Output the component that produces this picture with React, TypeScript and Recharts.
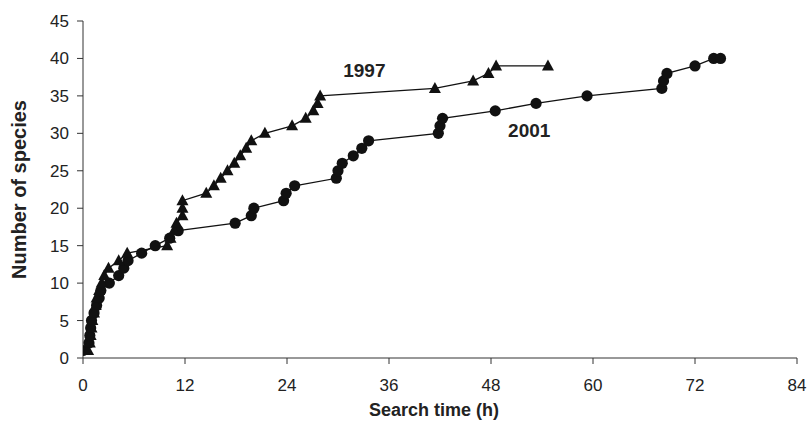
import { LineChart, Line, XAxis, YAxis, ReferenceDot } from "recharts";

const hours1997 = [0.6, 0.8, 0.9, 1.0, 1.1, 1.3, 1.5, 1.6, 1.9, 2.2, 2.5, 3.0, 4.2, 5.2, 9.9, 10.3, 10.7, 11.0, 11.7, 11.7, 11.7, 14.5, 15.4, 16.2, 17.0, 17.8, 18.5, 19.2, 19.8, 21.4, 24.6, 26.2, 27.1, 27.6, 27.9, 41.4, 45.9, 47.7, 48.6, 54.7];
const species1997 = [1, 2, 3, 4, 5, 6, 7, 8, 9, 10, 11, 12, 13, 14, 15, 16, 17, 18, 19, 20, 21, 22, 23, 24, 25, 26, 27, 28, 29, 30, 31, 32, 33, 34, 35, 36, 37, 38, 39, 39];

const hours2001 = [0, 0.7, 0.8, 0.9, 1.0, 1.3, 1.6, 1.9, 2.1, 3.1, 4.2, 4.8, 5.3, 6.9, 8.5, 10.2, 11.2, 17.9, 19.8, 20.1, 23.6, 23.9, 24.9, 29.8, 30.0, 30.5, 31.8, 32.8, 33.6, 41.8, 42.0, 42.3, 48.5, 53.3, 59.3, 68.1, 68.3, 68.7, 72.0, 74.2, 75.0];
const species2001 = [1, 2, 3, 4, 5, 6, 7, 8, 9, 10, 11, 12, 13, 14, 15, 16, 17, 18, 19, 20, 21, 22, 23, 24, 25, 26, 27, 28, 29, 30, 31, 32, 33, 34, 35, 36, 37, 38, 39, 40, 40];

const xTicks = [0, 12, 24, 36, 48, 60, 72, 84];
const yTicks = [0, 5, 10, 15, 20, 25, 30, 35, 40, 45];

const data1997 = hours1997.map((t, i) => ({ t, n: species1997[i] }));
const data2001 = hours2001.map((t, i) => ({ t, n: species2001[i] }));

const font = "'Liberation Sans', Arial, sans-serif";

const Triangle = (props: any) => {
  const { cx, cy } = props;
  if (cx == null || cy == null) return null;
  return (
    <path
      d={`M${cx},${cy - 6.5} L${cx + 6},${cy + 4.5} L${cx - 6},${cy + 4.5} Z`}
      fill="#111"
    />
  );
};

const Circle = (props: any) => {
  const { cx, cy } = props;
  if (cx == null || cy == null) return null;
  return <circle cx={cx} cy={cy} r={5.6} fill="#111" />;
};

export default function App() {
  return (
    <div style={{ position: "absolute", left: 0, top: 0, background: "#fff" }}>
      <LineChart
        width={807}
        height={423}
        margin={{ top: 21, right: 10, bottom: 0, left: 0 }}
      >
        <XAxis
          dataKey="t"
          type="number"
          domain={[0, 84]}
          ticks={xTicks}
          allowDataOverflow
          stroke="#333"
          tickSize={6}
          tickMargin={15}
          height={65}
          tick={{ fill: "#222", fontSize: 17, fontFamily: font }}
          label={{
            content: (p: any) => (
              <text
                x={p.viewBox.x + p.viewBox.width / 2 - 6}
                y={p.viewBox.y + 52}
                textAnchor="middle"
                dominantBaseline="central"
                fontFamily={font}
                fontWeight="bold"
                fontSize={18}
                fill="#222"
              >
                Search time (h)
              </text>
            ),
          }}
        />
        <YAxis
          dataKey="n"
          type="number"
          domain={[0, 45]}
          ticks={yTicks}
          stroke="#333"
          width={83}
          tickSize={6}
          tickMargin={8}
          tick={{ fill: "#222", fontSize: 17, fontFamily: font }}
          label={{
            content: (p: any) => (
              <text
                x={19}
                y={p.viewBox.y + p.viewBox.height / 2}
                transform={`rotate(-90, 19, ${p.viewBox.y + p.viewBox.height / 2})`}
                textAnchor="middle"
                dominantBaseline="central"
                fontFamily={font}
                fontWeight="bold"
                fontSize={20}
                fill="#222"
              >
                Number of species
              </text>
            ),
          }}
        />
        <Line
          data={data2001}
          dataKey="n"
          type="linear"
          stroke="#111"
          strokeWidth={1.3}
          dot={<Circle />}
          activeDot={false}
          isAnimationActive={false}
        />
        <Line
          data={data1997}
          dataKey="n"
          type="linear"
          stroke="#111"
          strokeWidth={1.3}
          dot={<Triangle />}
          activeDot={false}
          isAnimationActive={false}
        />
        <ReferenceDot
          x={33.1}
          y={38.4}
          r={0}
          stroke="none"
          label={{ value: "1997", position: "center", fontSize: 19, fontWeight: "bold", fontFamily: font, fill: "#222" }}
        />
        <ReferenceDot
          x={52.5}
          y={30.4}
          r={0}
          stroke="none"
          label={{ value: "2001", position: "center", fontSize: 19, fontWeight: "bold", fontFamily: font, fill: "#222" }}
        />
      </LineChart>
    </div>
  );
}
